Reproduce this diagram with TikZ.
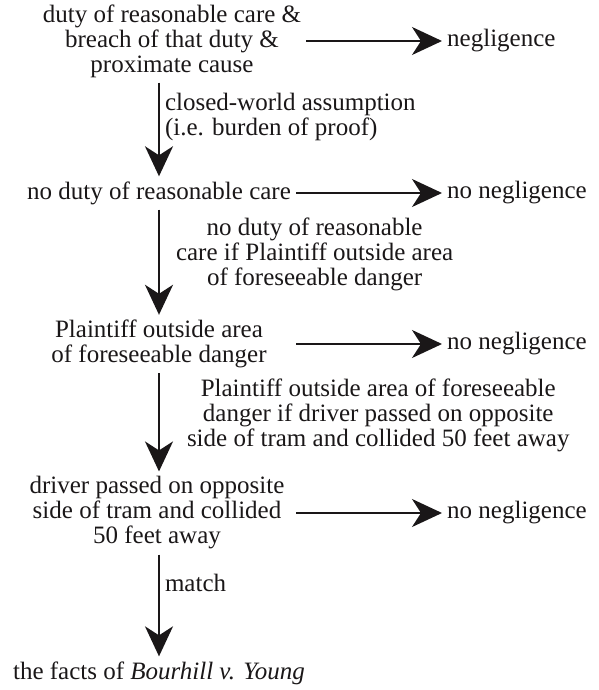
\documentclass[tikz,border=0pt]{standalone}
\usepackage{fontspec}
\setmainfont{Liberation Serif}
\usepackage{xcolor}
\usepackage{tikz}
\definecolor{argInk}{HTML}{1A1718}
\usetikzlibrary{arrows.meta,positioning}

\begin{document}
\begin{tikzpicture}[
  x=1pt, y=-1pt,
  font=\fontsize{25}{25}\selectfont,
  >=Stealth,
  claim/.style={align=center, inner sep=5pt, text=argInk},
  outcome/.style={anchor=west, inner sep=5pt, text=argInk},
  reason/.style={right, inner sep=5pt, text=argInk},
  infer/.style={-{Stealth[length=30pt, width=28pt, inset=9pt]}, line width=2pt, argInk}
]
\useasboundingbox (0,0) rectangle (598,690);

% Chain of claims
\node[claim] (duty) at (172,41) {duty of reasonable care \&\\ breach of that duty \&\\ proximate cause};
\node[claim] (noduty) at (159,193) {no duty of reasonable care};
\node[claim] (outside) at (159,344) {Plaintiff outside area\\ of foreseeable danger};
\node[claim] (driver) at (157,513) {driver passed on opposite\\ side of tram and collided\\ 50 feet away};
\node[claim] (facts) at (159,673) {the facts of \textit{Bourhill v. Young}};

% Outcomes
\node[outcome] (neg) at (442,41) {negligence};
\node[outcome] (noneg1) at (442,193) {no negligence};
\node[outcome] (noneg2) at (442,344) {no negligence};
\node[outcome] (noneg3) at (442,513) {no negligence};

% Conclusions
\draw[infer] (duty) -- (neg);
\draw[infer] (noduty) -- (noneg1);
\draw[infer] (outside.east -| noduty.east) -- (noneg2);
\draw[infer] (driver.east -| noduty.east) -- (noneg3);

% Reasoning steps
\draw[infer] (duty.south -| noduty) -- node[reason, pos=0.37, align=left] {closed-world assumption\\(i.e. burden of proof)} (noduty);
\draw[infer] (noduty) -- node[reason, pos=0.43, xshift=11pt, align=center] {no duty of reasonable\\ care if Plaintiff outside area\\ of foreseeable danger} (outside);
\draw[infer] (outside) -- node[reason, pos=0.43, xshift=22pt, align=center] {Plaintiff outside area of foreseeable\\ danger if driver passed on opposite\\ side of tram and collided 50 feet away} (outside |- driver.north);
\draw[infer] (driver.south -| facts) -- node[reason, pos=0.28] {match} (facts);

\end{tikzpicture}
\end{document}
